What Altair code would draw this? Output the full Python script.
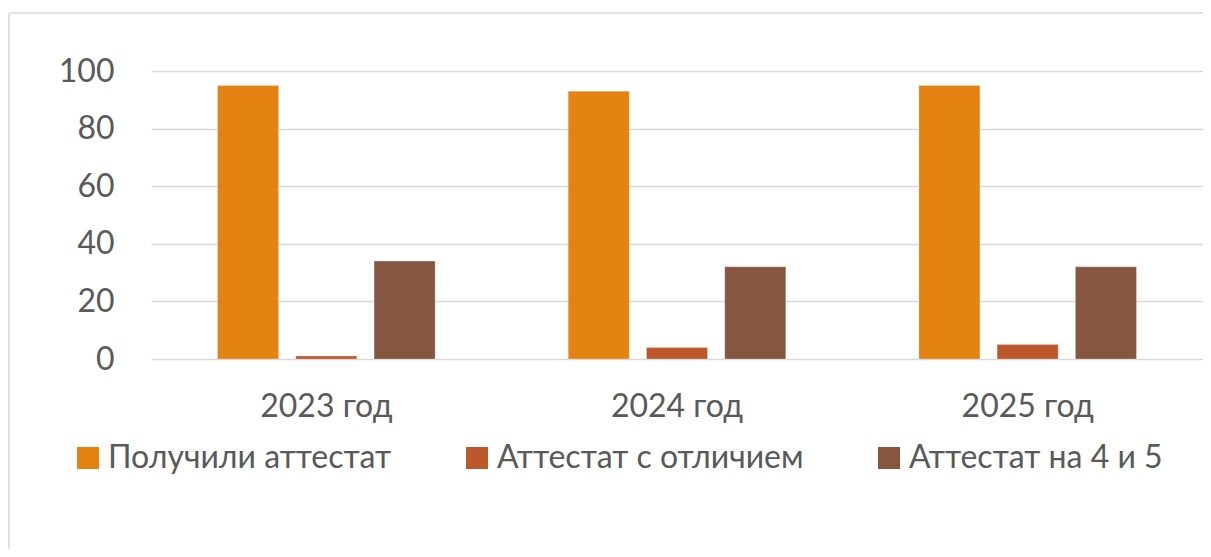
import altair as alt
import pandas as pd

years = ["2023 год", "2024 год", "2025 год"]
series = ["Получили аттестат", "Аттестат с отличием", "Аттестат на 4 и 5"]
received = [95, 93, 95]
honors = [1, 4, 5]
good = [34, 32, 32]
colors = ["#E48312", "#BD582C", "#865640"]
y_ticks = [0, 20, 40, 60, 80, 100]

rows = []
for s, vals in zip(series, [received, honors, good]):
    for yr, v in zip(years, vals):
        rows.append({"year": yr, "series": s, "value": v})
df = pd.DataFrame(rows)

FONT = "Lato"
TXT = "#595959"
GRID = "#D9D9D9"
FS = 32

bars = alt.Chart(df).mark_bar(stroke="#ffffff", strokeWidth=0.5, strokeOpacity=0.5).encode(
    x=alt.X(
        "year:N", sort=years,
        scale=alt.Scale(paddingInner=0, paddingOuter=0),
        axis=alt.Axis(title=None, labelAngle=0, ticks=False, domain=False, grid=False,
                      labelFontSize=FS, labelColor=TXT, labelPadding=32, labelFont=FONT),
    ),
    xOffset=alt.XOffset("series:N", sort=series,
                        scale=alt.Scale(paddingInner=0.22, paddingOuter=0.85)),
    y=alt.Y(
        "value:Q",
        scale=alt.Scale(domain=[0, 100], nice=False),
        axis=alt.Axis(title=None, values=y_ticks, ticks=False, domain=False,
                      labelFontSize=FS, labelColor=TXT, labelPadding=37, labelFont=FONT,
                      gridColor=GRID, gridWidth=1.3),
    ),
    color=alt.Color(
        "series:N", sort=series,
        scale=alt.Scale(domain=series, range=colors),
        legend=alt.Legend(
            title=None, orient="none", legendX=-79, legendY=371,
            direction="horizontal", columns=3, columnPadding=69,
            symbolType="square", symbolSize=484, symbolStrokeWidth=0, symbolOpacity=1,
            labelFontSize=FS, labelFont=FONT, labelColor=TXT, labelOffset=4,
            padding=0, labelLimit=500,
        ),
    ),
)

frame_data = pd.DataFrame({"k": [0]})
frame_left = alt.Chart(frame_data).mark_rule(color=GRID, strokeWidth=1.5).encode(
    x=alt.value(-142), y=alt.value(-58), y2=alt.value(480)
)
frame_top = alt.Chart(frame_data).mark_rule(color=GRID, strokeWidth=1.5).encode(
    x=alt.value(-142), x2=alt.value(1060), y=alt.value(-58)
)

chart = alt.layer(frame_left, frame_top, bars).properties(
    width=1052, height=288,
    autosize=alt.AutoSizeParams(type="none"),
    padding={"left": 143, "top": 63, "right": 0, "bottom": 190},
).configure_view(stroke=None)

chart.save("out.html", embed_options={"renderer": "svg", "actions": False})
